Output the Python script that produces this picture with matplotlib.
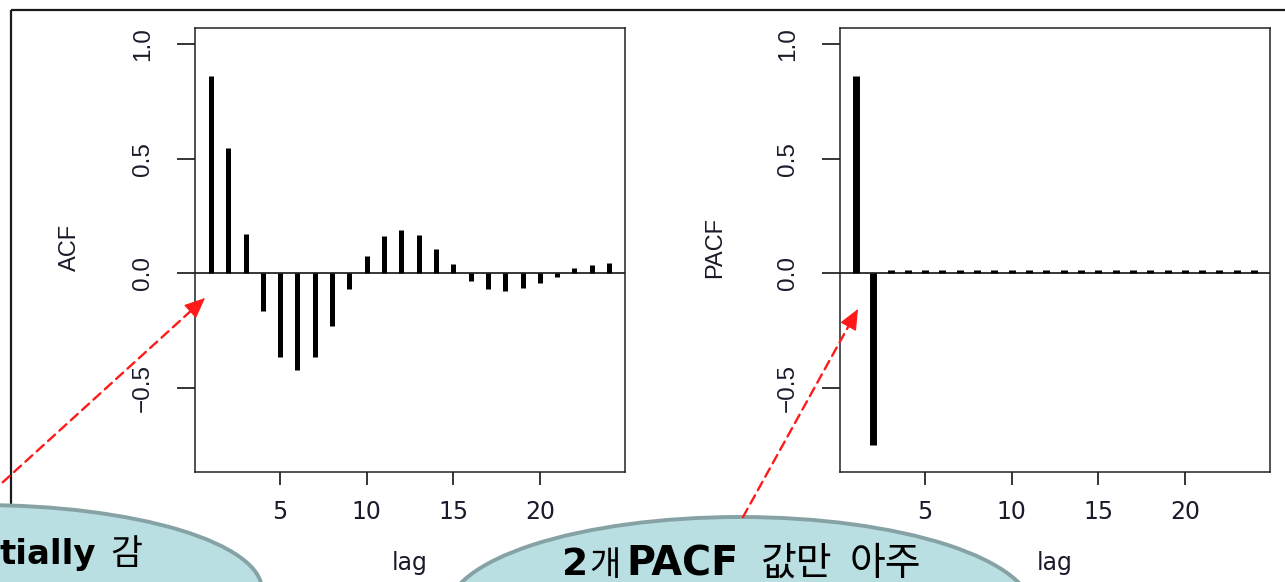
import numpy as np
import matplotlib.pyplot as plt
from matplotlib.patches import Ellipse, Rectangle, FancyArrowPatch
from matplotlib.transforms import Affine2D

# sample autocorrelations, lags 1..24
lags = np.arange(1, 25)
acf_vals = [0.863, 0.546, 0.170, -0.163, -0.367, -0.422, -0.367, -0.230,
            -0.067, 0.077, 0.163, 0.189, 0.166, 0.105, 0.039, -0.034,
            -0.067, -0.077, -0.065, -0.044, -0.015, 0.022, 0.036, 0.044]
pacf_vals = [0.863, -0.750, 0.012, 0.012, 0.012, 0.012, 0.012, 0.012,
             0.012, 0.012, 0.012, 0.012, 0.012, 0.012, 0.012, 0.012,
             0.012, 0.012, 0.012, 0.012, 0.012, 0.012, 0.012, 0.012]

xticks = [5, 10, 15, 20]
yticks = [-0.5, 0.0, 0.5, 1.0]
ytick_labels = ['\u22120.5', '0.0', '0.5', '1.0']

W, H = 1285, 582
fig = plt.figure(figsize=(W / 100, H / 100), dpi=100)
# pixel coordinates measured from the top-left corner
px = Affine2D().scale(1 / W, -1 / H).translate(0, 1) + fig.transFigure

ink = '#1a1a2a'


def panel(left, vals, lw, ylab):
    ax = fig.add_axes([left / W, 1 - 472 / H, 430 / W, 444 / H])
    ax.vlines(lags, 0, vals, color='black', lw=lw, capstyle='butt')
    ax.axhline(0, color='black', lw=1.1)
    ax.set_xlim(0.08, 24.92)
    ax.set_ylim(-0.868, 1.071)
    for sp in ax.spines.values():
        sp.set_linewidth(1.1)
        sp.set_color('#222222')
    ax.set_xticks(xticks)
    ax.set_xticklabels([str(t) for t in xticks], fontfamily='DejaVu Sans',
                       fontsize=17, color=ink)
    ax.set_yticks(yticks)
    ax.set_yticklabels(ytick_labels, rotation=90, va='center',
                       fontfamily='Liberation Sans', fontsize=17.5,
                       color=ink)
    ax.tick_params(axis='x', length=9.5, width=1.1, pad=11)
    ax.tick_params(axis='y', length=13, width=1.1, pad=16.5)
    ax.set_xlabel('lag', fontfamily='DejaVu Sans', fontsize=17, color=ink)
    ax.xaxis.set_label_coords(0.5, -0.178)
    ax.set_ylabel(ylab, fontfamily='Liberation Sans', fontsize=17,
                  color=ink)
    ax.yaxis.label.set_va('center')
    ax.yaxis.set_label_coords(-125 / 430, 0.505)
    return ax


ax1 = panel(195, acf_vals, 3.6, 'ACF')
ax2 = panel(840, pacf_vals, 5.0, 'PACF')

# outer slide frame
fig.add_artist(Rectangle((11, 10), 1400, 700, transform=px, fill=False,
                         lw=1.6, ec='#1a1a1a', zorder=1))

# callout bubbles
bubble_fc = '#b9dfe2'
bubble_ec = '#86a2a5'
fig.add_artist(Ellipse((-20, 590), 564, 170, transform=px, fc=bubble_fc,
                       ec=bubble_ec, lw=2.8, zorder=2))
fig.add_artist(Ellipse((740, 612), 586, 190, transform=px, fc=bubble_fc,
                       ec=bubble_ec, lw=2.8, zorder=2))


def arrow(start, tip):
    line = FancyArrowPatch(start, tip, transform=px, arrowstyle='-',
                           color='#ff1a1a', lw=1.7, ls=(0, (4, 2.5)),
                           shrinkA=0, shrinkB=10, zorder=4)
    fig.add_artist(line)
    d = np.array(tip, float) - np.array(start, float)
    d /= np.hypot(*d)
    back = tuple(np.array(tip, float) - d * 20)
    head = FancyArrowPatch(back, tip, transform=px,
                           arrowstyle='-|>,head_length=0.55,head_width=0.24',
                           mutation_scale=24, color='#ff1a1a', lw=0.8,
                           shrinkA=0, shrinkB=0, zorder=4)
    fig.add_artist(head)


arrow((-20, 503), (205, 298))
arrow((743, 517), (858, 309))

latin = ['DejaVu Sans']
hangul = ['Noto Sans CJK KR', 'DejaVu Sans']


def words(y, items):
    # items: (x, text, family, weight, size), all on one baseline
    for x, s, fam, w, sz in items:
        fig.text(x / W, 1 - y / H, s, family=fam, fontweight=w, fontsize=sz,
                 va='baseline', ha='left', color='black', zorder=5)


words(564, [(-1, 'tially', latin, 'bold', 24.5),
            (110, '감', hangul, 'normal', 25)])
words(575, [(562, '2', latin, 'bold', 27),
            (589, '개', hangul, 'normal', 24.5),
            (626, 'PACF', latin, 'bold', 28.5),
            (761, '값만', hangul, 'normal', 28),
            (850, '아주', hangul, 'normal', 28)])

fig.savefig('out.png', dpi=100)
